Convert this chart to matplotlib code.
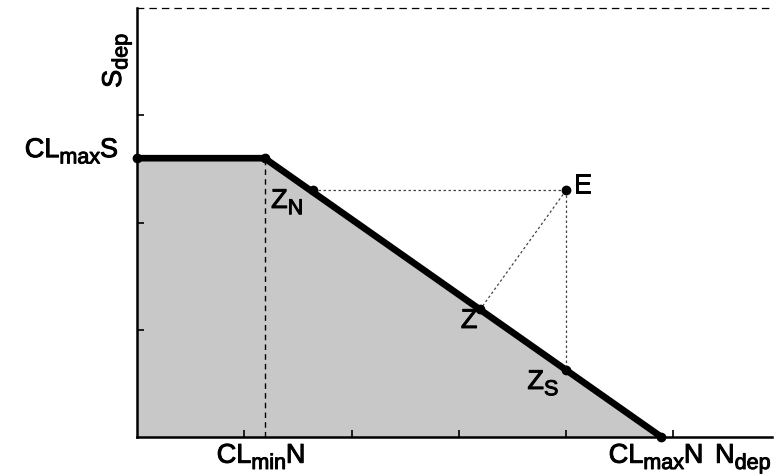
import math
import matplotlib
matplotlib.use("Agg")
import matplotlib.pyplot as plt
import matplotlib.transforms as mtransforms
import matplotlib.patheffects as pe

plt.rcParams['font.family'] = ['Liberation Sans', 'DejaVu Sans']

# frontier (axis units)
cl_max_s = 2.6
cl_min_n = 1.19
cl_max_n = 4.89
frontier_x = [0.0, cl_min_n, cl_max_n]
frontier_y = [cl_max_s, cl_max_s, 0.0]

# efficiency points
e_pt = (4.0, 2.3)
zn_pt = (1.64, 2.3)
z_pt = (3.2, 1.19)
zs_pt = (4.0, 0.625)

x_ticks = [1, 2, 3, 4, 5]
y_ticks = [1, 2, 3]

MAIN_FS = 19.5
SUB_FS = 15.5
SUB_DROP = 4.5  # points
bold_fx = [pe.withStroke(linewidth=0.7, foreground='black')]

fig = plt.figure(figsize=(7.75, 4.75), dpi=100)
ax = fig.add_axes([0.1768, 0.08, 0.8192, 0.903])
ax.set_xlim(0, 5.92)
ax.set_ylim(0, 4)
renderer = fig.canvas.get_renderer()


def sub_label(x, y, parts, ha='left', rot=0):
    """draw text made of (string, is_subscript) pieces, baseline at (x, y)"""
    widths = []
    for s, is_sub in parts:
        t = fig.text(0, 0, s, fontsize=SUB_FS if is_sub else MAIN_FS)
        widths.append(t.get_window_extent(renderer).width * 72 / fig.dpi)
        t.remove()
    total = sum(widths)
    start = {'left': 0, 'center': -total / 2, 'right': -total}[ha]
    r = math.radians(rot)
    adv = (math.cos(r), math.sin(r))
    down = (math.sin(r), -math.cos(r))
    pos = start
    for (s, is_sub), w in zip(parts, widths):
        drop = SUB_DROP if is_sub else 0
        dx = adv[0] * pos + down[0] * drop
        dy = adv[1] * pos + down[1] * drop
        tr = mtransforms.offset_copy(ax.transData, fig=fig, x=dx, y=dy, units='points')
        ax.text(x, y, s, transform=tr, fontsize=SUB_FS if is_sub else MAIN_FS,
                ha='left', va='baseline', rotation=rot, rotation_mode='anchor',
                path_effects=bold_fx, clip_on=False)
        pos += w


ax.fill_between(frontier_x, frontier_y, 0, color='#c8c8c8', lw=0, zorder=1)
ax.plot(frontier_x, frontier_y, color='black', lw=4.8, solid_capstyle='round', zorder=3)

# construction lines
ax.plot([cl_min_n, cl_min_n], [0, cl_max_s], color='black', lw=1, dashes=(4, 3), zorder=2)
ax.plot([zn_pt[0], e_pt[0]], [zn_pt[1], e_pt[1]], color='#444444', lw=0.9, dashes=(2, 2), zorder=2)
ax.plot([e_pt[0], zs_pt[0]], [e_pt[1], zs_pt[1]], color='#444444', lw=0.9, dashes=(2, 2), zorder=2)
ax.plot([e_pt[0], z_pt[0]], [e_pt[1], z_pt[1]], color='#444444', lw=0.9, dashes=(2, 2), zorder=2)

px = [0.0, cl_min_n, cl_max_n, e_pt[0], zn_pt[0], z_pt[0], zs_pt[0]]
py = [cl_max_s, cl_max_s, 0.0, e_pt[1], zn_pt[1], z_pt[1], zs_pt[1]]
ax.plot(px, py, 'o', color='black', ms=6, zorder=4, clip_on=False)

sub_label(-0.177, 2.61, [('CL', False), ('max', True), ('S', False)], ha='right')
sub_label(1.157, -0.24, [('CL', False), ('min', True), ('N', False)], ha='center')
sub_label(4.84, -0.24, [('CL', False), ('max', True), ('N', False)], ha='center')
sub_label(5.39, -0.24, [('N', False), ('dep', True)], ha='left')
sub_label(-0.15, 3.256, [('S', False), ('dep', True)], ha='left', rot=90)
sub_label(1.25, 2.136, [('Z', False), ('N', True)])
sub_label(3.02, 1.017, [('Z', False)])
sub_label(3.64, 0.448, [('Z', False), ('S', True)])
sub_label(4.07, 2.276, [('E', False)])

ax.set_xticks(x_ticks)
ax.set_yticks(y_ticks)
ax.set_xticklabels([])
ax.set_yticklabels([])
ax.tick_params(direction='in', length=5, width=1.2, colors='black')

ax.spines['right'].set_visible(False)
ax.spines['left'].set_linewidth(1.8)
ax.spines['bottom'].set_linewidth(1.8)
ax.spines['top'].set_linewidth(0.9)
ax.spines['top'].set_linestyle((0, (5, 5)))

fig.savefig('out.png', dpi=100)
